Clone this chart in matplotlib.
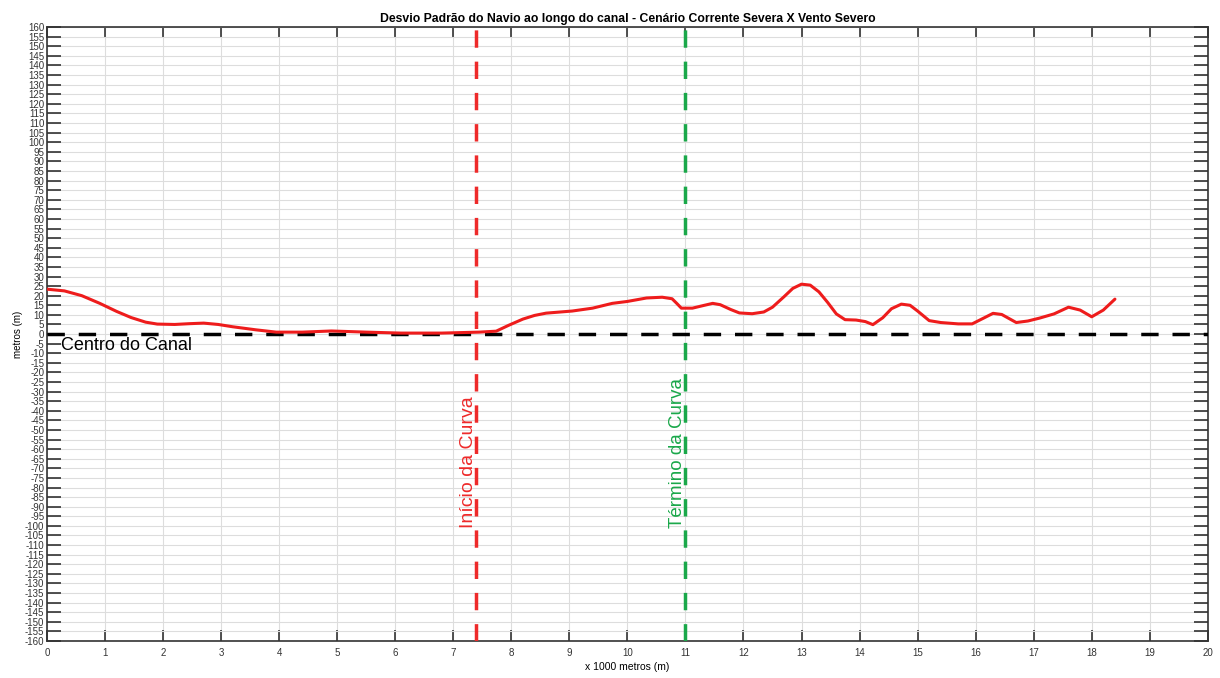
import matplotlib
matplotlib.use("Agg")
import matplotlib.pyplot as plt
import numpy as np

plt.rcParams['font.family'] = ['Liberation Sans', 'DejaVu Sans']
plt.rcParams['axes.unicode_minus'] = False

title = "Desvio Padrão do Navio ao longo do canal - Cenário Corrente Severa X Vento Severo"
xlabel = "x 1000 metros (m)"
ylabel = "metros (m)"

dist_km = [0.0, 0.3, 0.6, 0.91, 1.2, 1.45, 1.7, 1.9, 2.2, 2.45, 2.7, 2.95, 3.2, 3.6, 3.95,
           4.4, 4.9, 5.5, 6.1, 6.8, 7.45, 7.74, 7.95, 8.2, 8.4, 8.6, 9.05, 9.4, 9.74,
           10.0, 10.33, 10.6, 10.77, 10.85, 10.93, 11.12, 11.3, 11.47, 11.6, 11.78, 11.93,
           12.15, 12.35, 12.5, 12.7, 12.85, 13.0, 13.15, 13.3, 13.45, 13.6, 13.75, 13.94,
           14.1, 14.23, 14.4, 14.55, 14.72, 14.87, 15.0, 15.2, 15.4, 15.7, 15.94, 16.15,
           16.3, 16.45, 16.7, 16.9, 17.1, 17.35, 17.6, 17.8, 18.0, 18.2, 18.4]
desvio_m = [23.4, 22.5, 20.0, 16.0, 11.8, 8.6, 6.2, 5.2, 5.0, 5.4, 5.7, 5.0, 3.8, 2.2, 1.0,
            1.0, 1.6, 1.0, 0.5, 0.5, 1.0, 1.5, 4.5, 7.8, 9.7, 10.9, 12.0, 13.5, 16.0,
            17.0, 18.8, 19.2, 18.4, 16.0, 13.5, 13.5, 14.8, 16.0, 15.3, 12.8, 11.0,
            10.6, 11.5, 14.0, 19.5, 23.8, 26.0, 25.5, 22.0, 16.5, 10.5, 7.5, 7.3,
            6.5, 4.9, 8.5, 13.2, 15.6, 15.0, 12.0, 7.0, 6.0, 5.3, 5.3, 8.5,
            10.8, 10.2, 6.0, 6.8, 8.3, 10.5, 14.0, 12.5, 9.0, 12.5, 18.2]

inicio_curva = 7.4
termino_curva = 11.0

fig = plt.figure(figsize=(12.2, 6.78), dpi=100)
ax = fig.add_axes([0.0385, 0.0546, 0.9515, 0.9054])

ax.set_xlim(0, 20)
ax.set_ylim(-160, 160)
ax.set_xticks(np.arange(0, 21, 1))
ax.set_yticks(np.arange(-160, 161, 5))
ax.grid(True, color='#dddddd', linewidth=0.8)
ax.set_axisbelow(True)

ax.tick_params(axis='y', direction='in', length=10, width=1.2, labelsize=7, pad=2,
               left=True, right=True, color='#333333')
ax.tick_params(axis='x', direction='in', length=8, width=1.2, labelsize=7, pad=5,
               bottom=True, top=True, color='#333333')
for lab in ax.get_yticklabels():
    lab.set_color('#333333')
for lab in ax.get_xticklabels():
    lab.set_color('#333333')
for s in ax.spines.values():
    s.set_color('#333333')
    s.set_linewidth(1.2)

ax.axhline(0, color='black', linestyle=(0, (5, 4)), linewidth=2.5, zorder=3)
ax.axvline(inicio_curva, color='#ee2a2a', linestyle=(0, (5, 4)), linewidth=2.5, zorder=3)
ax.axvline(termino_curva, color='#1aa84a', linestyle=(0, (5, 4)), linewidth=2.5, zorder=3)

ax.plot(dist_km, desvio_m, color='#ee1c1c', linewidth=2.2, zorder=4,
        solid_capstyle='round', solid_joinstyle='round')

ax.text(0.25, -6, "Centro do Canal", fontsize=13, color='black', va='center', ha='left')
ax.text(inicio_curva - 0.14, -67, "Início da Curva", rotation=90, fontsize=14,
        color='#ee2a2a', ha='center', va='center')
ax.text(termino_curva - 0.14, -62, "Término da Curva", rotation=90, fontsize=13.5,
        color='#1aa84a', ha='center', va='center')

ax.set_title(title, fontsize=8.8, fontweight='bold', pad=4)
ax.set_xlabel(xlabel, fontsize=7.5, labelpad=3)
ax.set_ylabel(ylabel, fontsize=7, labelpad=1)

fig.savefig("out.png", dpi=100)
